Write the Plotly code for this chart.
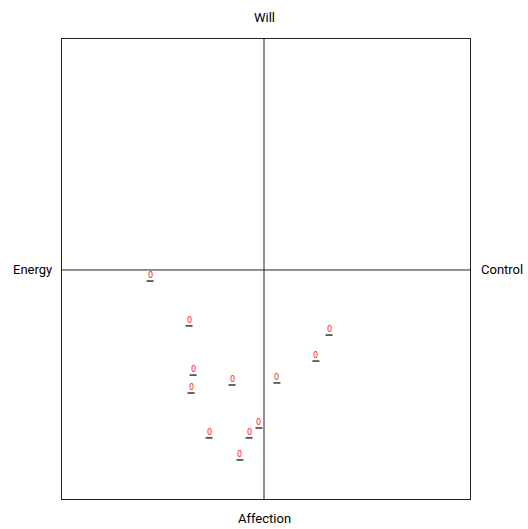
import plotly.graph_objects as go

xs = [-0.564, -0.371, -0.351, -0.361, -0.158, -0.272, -0.074, -0.025, -0.119, 0.322, 0.257, 0.064]
ys = [-0.048, -0.243, -0.457, -0.535, -0.500, -0.730, -0.730, -0.687, -0.826, -0.283, -0.396, -0.491]
labels = ["0"] * len(xs)

axis_top, axis_bottom, axis_left, axis_right = "Will", "Affection", "Energy", "Control"

fig = go.Figure()
fig.add_trace(go.Scatter(
    x=xs, y=ys, mode="markers",
    marker=dict(symbol="line-ew", size=5, line=dict(width=1.5, color="#333333"), color="#333333"),
    hoverinfo="skip", showlegend=False, cliponaxis=False,
))
for x, y, t in zip(xs, ys, labels):
    fig.add_annotation(x=x, y=y, xref="x", yref="y", text=t, showarrow=False,
                       xanchor="center", yanchor="bottom", yshift=-1,
                       font=dict(family="DejaVu Sans Condensed", size=9, color="#ff1a1a"))

xr = [-1.0, 1.0198]
yr = [-0.9957, 1.0043]
fig.add_shape(type="line", x0=0, x1=0, y0=yr[0], y1=yr[1], line=dict(color="#222222", width=1))
fig.add_shape(type="line", x0=xr[0], x1=xr[1], y0=0, y1=0, line=dict(color="#222222", width=1))

lab_font = dict(family="Roboto", size=13, color="#000000")
fig.add_annotation(x=0, y=1, xref="x", yref="paper", yshift=22, text=axis_top, showarrow=False,
                   xanchor="center", yanchor="middle", font=lab_font)
fig.add_annotation(x=0, y=0, xref="x", yref="paper", yshift=-19, text=axis_bottom, showarrow=False,
                   xanchor="center", yanchor="middle", font=lab_font)
fig.add_annotation(x=0, y=0, xref="paper", yref="y", xshift=-30, text=axis_left, showarrow=False,
                   xanchor="center", yanchor="middle", font=lab_font)
fig.add_annotation(x=1, y=0, xref="paper", yref="y", xshift=32, text=axis_right, showarrow=False,
                   xanchor="center", yanchor="middle", font=lab_font)

ax = dict(showgrid=False, zeroline=False, showticklabels=False, ticks="",
          showline=True, mirror=True, linecolor="#222222", linewidth=1, fixedrange=True)
fig.update_xaxes(range=xr, **ax)
fig.update_yaxes(range=yr, **ax)
fig.update_layout(width=528, height=529, margin=dict(l=62, r=58, t=39, b=30),
                  paper_bgcolor="white", plot_bgcolor="white", hovermode=False)
fig.write_html("out.html", config={"displayModeBar": False},
               post_script="document.body.style.margin='0';document.body.style.overflow='hidden';")
